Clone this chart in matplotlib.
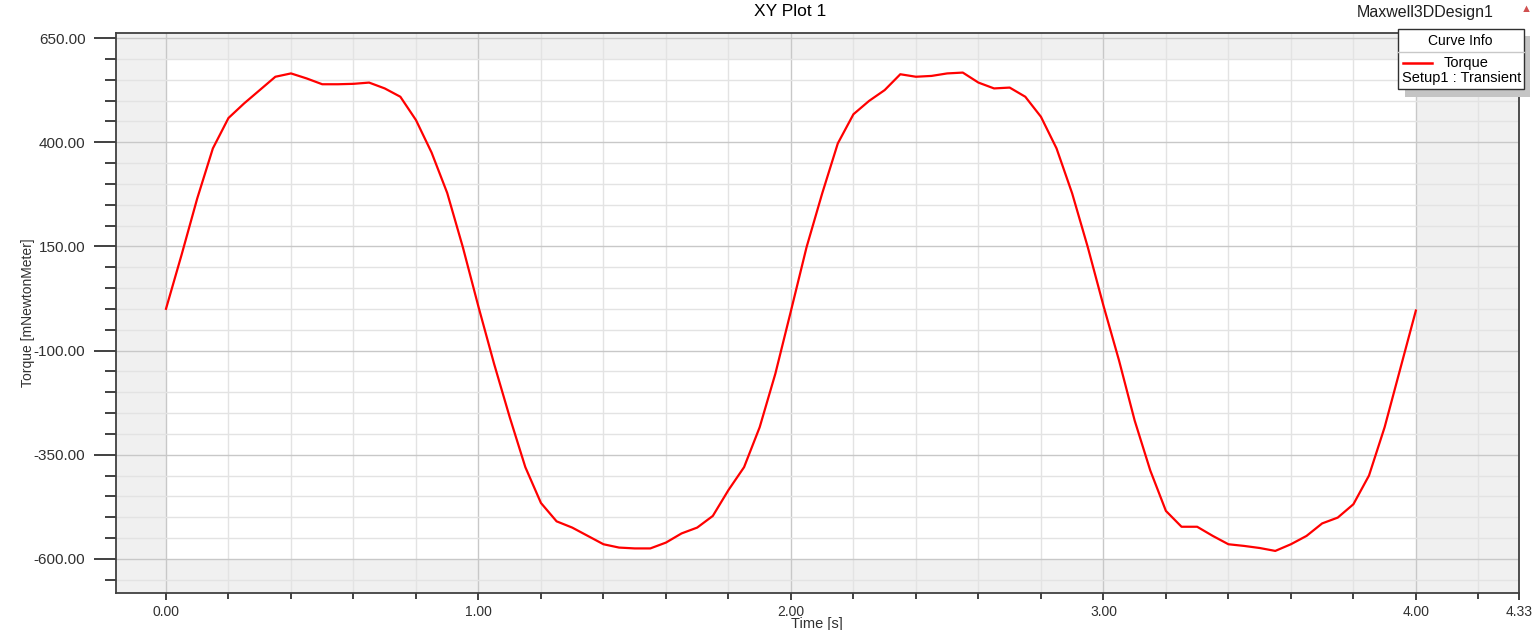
import matplotlib
matplotlib.use("Agg")
import matplotlib.pyplot as plt
from matplotlib.patches import Rectangle
from matplotlib.lines import Line2D
from matplotlib.ticker import MultipleLocator
import numpy as np

plt.rcParams["font.family"] = ["Liberation Sans", "DejaVu Sans"]

# torque samples, every 0.05 s
time_s = np.round(np.arange(0, 4.0001, 0.05), 2)
torque = [
    0, 130, 265, 385, 458, 493, 525, 557, 565, 553,
    539, 539, 540, 543, 529, 509, 453, 375, 278, 148,
    5, -132, -260, -380, -466, -510, -525, -545, -565, -573,
    -575, -575, -561, -539, -525, -497, -435, -380, -284, -156,
    -5, 148, 277, 397, 467, 499, 525, 563, 557, 559,
    565, 567, 543, 529, 531, 509, 461, 385, 277, 148,
    8, -124, -268, -388, -485, -523, -523, -545, -565, -569,
    -574, -581, -565, -545, -515, -501, -469, -400, -284, -144,
    -4,
]

y_major = [-600, -350, -100, 150, 400, 650]
x_major = [0, 1, 2, 3, 4, 4.33]

W, H = 1540, 630
fig = plt.figure(figsize=(W / 100, H / 100), dpi=100)
ax = fig.add_axes([116 / W, 1 - 593 / H, (1519 - 116) / W, (593 - 33) / H])

# gray outside the data range, white inside
ax.set_facecolor("#f0f0f0")
ax.add_patch(Rectangle((0, -600), 4, 1200, facecolor="white", edgecolor="none", zorder=0))

ax.set_xlim(-0.16, 4.33)
ax.set_ylim(-682, 662)
ax.set_yticks(y_major)
ax.set_yticklabels(["%.2f" % v for v in y_major])
ax.set_xticks(x_major)
ax.set_xticklabels(["%.2f" % v for v in x_major])
ax.yaxis.set_minor_locator(MultipleLocator(50))
ax.xaxis.set_minor_locator(MultipleLocator(0.2))

ax.grid(which="minor", color="#e3e3e3", linewidth=1.0, zorder=1)
ax.grid(which="major", color="#c8c8c8", linewidth=1.0, zorder=1)
ax.set_axisbelow(True)

ax.tick_params(axis="y", which="major", length=16, width=1.2, color="#202020",
               labelsize=11, labelcolor="#303030", pad=6)
ax.tick_params(axis="y", which="minor", length=8, width=1.2, color="#202020")
ax.tick_params(axis="x", which="major", length=5, width=1.2, color="#202020",
               labelsize=10, labelcolor="#303030", pad=4)
ax.tick_params(axis="x", which="minor", length=4, width=1.2, color="#202020")
for s in ax.spines.values():
    s.set_color("#404040")
    s.set_linewidth(1.3)

ax.plot(time_s, torque, color="#ff0000", linewidth=1.6, zorder=3)

ax.set_xlabel("Time [s]", fontsize=10.5, labelpad=-2, color="#303030")
ax.xaxis.label.set_position(((817 - 116) / 1403, 0))
ax.set_ylabel("Torque [mNewtonMeter]", fontsize=10, color="#303030")
ax.yaxis.set_label_coords(-0.058, 0.5)

fig.text(790 / W, 1 - 12 / H, "XY Plot 1", ha="center", va="center", fontsize=12.5)
fig.text(1425 / W, 1 - 13 / H, "Maxwell3DDesign1", ha="center", va="center",
         fontsize=11.5, color="#202020")
fig.text(1526 / W, 1 - 9 / H, "\u25b2", ha="center", va="center", fontsize=8, color="#d05050")

# curve info box
def px(x, y):
    return x / W, 1 - y / H

tf = fig.transFigure
fig.add_artist(Rectangle(px(1405, 97), 125 / W, 61 / H, transform=tf,
                         facecolor="#c4c4c4", edgecolor="none", zorder=5))
fig.add_artist(Rectangle(px(1398, 89), 126 / W, 60 / H, transform=tf,
                         facecolor="white", edgecolor="#303030", linewidth=1.0, zorder=6))
fig.add_artist(Line2D([1398 / W, 1524 / W], [1 - 52 / H, 1 - 52 / H], transform=tf,
                      color="#c8c8c8", linewidth=1.0, zorder=7))
fig.add_artist(Line2D([1403 / W, 1432 / W], [1 - 63 / H, 1 - 63 / H], transform=tf,
                      color="#ff0000", linewidth=1.8, zorder=7))
fig.text(1460 / W, 1 - 41 / H, "Curve Info", ha="center", va="center", fontsize=10, zorder=8)
fig.text(1466 / W, 1 - 63 / H, "Torque", ha="center", va="center", fontsize=10.5, zorder=8)
fig.text(1462 / W, 1 - 78 / H, "Setup1 : Transient", ha="center", va="center", fontsize=10.5, zorder=8)

fig.savefig("out.png", dpi=100)
plt.close(fig)
